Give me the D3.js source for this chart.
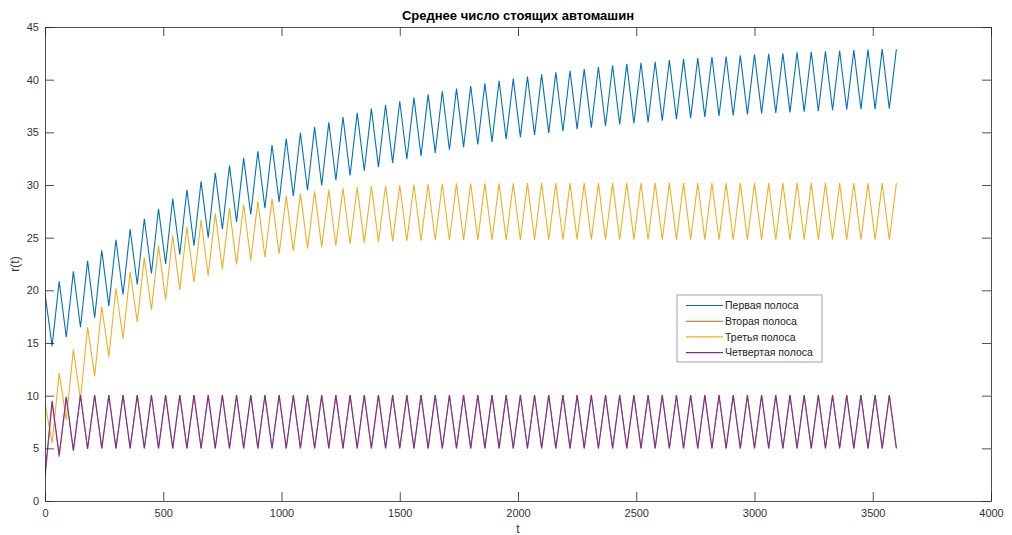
<!DOCTYPE html>
<html>
<head>
<meta charset="utf-8">
<script src="https://cdn.jsdelivr.net/npm/d3@7"></script>
<style>
  html, body { margin: 0; padding: 0; background: #ffffff; }
  svg { display: block; font-family: "Liberation Sans", Arial, Helvetica, sans-serif; }
</style>
</head>
<body>
<svg id="chart" width="1012" height="535"></svg>
<script>
// Mean number of waiting cars per lane, sampled every 30 s over one hour
const sampleStep = 30;
const timeEnd = 3600;

const laneNames = ["Первая полоса", "Вторая полоса", "Третья полоса", "Четвертая полоса"];
const laneColors = ["#0072BD", "#D95319", "#EDB120", "#7E2F8E"];

const firstLane = [
  19.7, 14.7, 20.85, 15.55, 21.8, 16.5, 22.8, 17.4, 23.8, 18.5,
  24.8, 19.6, 25.8, 20.55, 26.8, 21.6, 27.75, 22.5, 28.7, 23.4,
  29.55, 24.25, 30.35, 25.0, 31.15, 25.8, 31.85, 26.5, 32.55, 27.2,
  33.2, 27.8, 33.8, 28.4, 34.4, 28.95, 34.95, 29.5, 35.5, 29.95,
  35.95, 30.45, 36.45, 30.9, 36.85, 31.35, 37.25, 31.7, 37.6, 32.1,
  37.95, 32.45, 38.3, 32.75, 38.6, 33.05, 38.9, 33.35, 39.15, 33.6,
  39.4, 33.85, 39.65, 34.1, 39.9, 34.35, 40.1, 34.55, 40.3, 34.75,
  40.5, 34.95, 40.7, 35.1, 40.85, 35.3, 41.0, 35.45, 41.2, 35.6,
  41.35, 35.75, 41.5, 35.85, 41.6, 35.95, 41.7, 36.1, 41.85, 36.25,
  41.95, 36.35, 42.05, 36.45, 42.15, 36.55, 42.2, 36.6, 42.3, 36.7,
  42.4, 36.8, 42.45, 36.85, 42.5, 36.9, 42.6, 36.95, 42.65, 37.0,
  42.7, 37.1, 42.75, 37.15, 42.8, 37.2, 42.85, 37.2, 42.9, 37.25,
  42.9
];

const secondLane = [
  2.1, 9.3, 4.2, 9.8, 4.75, 10.05, 4.95, 10.05, 5.0, 10.05,
  5.0, 10.05, 5.0, 10.05, 5.0, 10.05, 5.0, 10.05, 5.0, 10.05,
  5.0, 10.05, 5.0, 10.05, 5.0, 10.05, 5.0, 10.05, 5.0, 10.05,
  5.0, 10.05, 5.0, 10.05, 5.0, 10.05, 5.0, 10.05, 5.0, 10.05,
  5.0, 10.05, 5.0, 10.05, 5.0, 10.05, 5.0, 10.05, 5.0, 10.05,
  5.0, 10.05, 5.0, 10.05, 5.0, 10.05, 5.0, 10.05, 5.0, 10.05,
  5.0, 10.05, 5.0, 10.05, 5.0, 10.05, 5.0, 10.05, 5.0, 10.05,
  5.0, 10.05, 5.0, 10.05, 5.0, 10.05, 5.0, 10.05, 5.0, 10.05,
  5.0, 10.05, 5.0, 10.05, 5.0, 10.05, 5.0, 10.05, 5.0, 10.05,
  5.0, 10.05, 5.0, 10.05, 5.0, 10.05, 5.0, 10.05, 5.0, 10.05,
  5.0, 10.05, 5.0, 10.05, 5.0, 10.05, 5.0, 10.05, 5.0, 10.05,
  5.0, 10.05, 5.0, 10.05, 5.0, 10.05, 5.0, 10.05, 5.0, 10.05,
  5.0
];

const thirdLane = [
  9.3, 5.5, 12.15, 7.7, 14.4, 9.6, 16.5, 11.85, 18.45, 13.7,
  20.2, 15.4, 21.75, 17.0, 23.1, 18.15, 24.25, 19.1, 25.2, 20.05,
  26.0, 20.8, 26.7, 21.4, 27.3, 22.0, 27.8, 22.45, 28.15, 22.85,
  28.45, 23.15, 28.7, 23.45, 28.95, 23.75, 29.2, 23.95, 29.4, 24.1,
  29.55, 24.25, 29.7, 24.4, 29.8, 24.5, 29.9, 24.6, 29.95, 24.65,
  30.0, 24.7, 30.05, 24.72, 30.1, 24.75, 30.12, 24.76, 30.15, 24.77,
  30.15, 24.78, 30.16, 24.78, 30.17, 24.79, 30.17, 24.79, 30.18, 24.79,
  30.18, 24.8, 30.18, 24.8, 30.18, 24.8, 30.18, 24.8, 30.18, 24.8,
  30.18, 24.8, 30.18, 24.8, 30.18, 24.8, 30.18, 24.8, 30.18, 24.8,
  30.18, 24.8, 30.18, 24.8, 30.18, 24.8, 30.18, 24.8, 30.18, 24.8,
  30.18, 24.8, 30.18, 24.8, 30.18, 24.8, 30.18, 24.8, 30.18, 24.8,
  30.18, 24.8, 30.18, 24.8, 30.18, 24.8, 30.18, 24.8, 30.18, 24.8,
  30.18
];

const fourthLane = [
  2.4, 9.5, 4.35, 9.9, 4.8, 10.05, 4.95, 10.05, 5.0, 10.05,
  5.0, 10.05, 5.0, 10.05, 5.0, 10.05, 5.0, 10.05, 5.0, 10.05,
  5.0, 10.05, 5.0, 10.05, 5.0, 10.05, 5.0, 10.05, 5.0, 10.05,
  5.0, 10.05, 5.0, 10.05, 5.0, 10.05, 5.0, 10.05, 5.0, 10.05,
  5.0, 10.05, 5.0, 10.05, 5.0, 10.05, 5.0, 10.05, 5.0, 10.05,
  5.0, 10.05, 5.0, 10.05, 5.0, 10.05, 5.0, 10.05, 5.0, 10.05,
  5.0, 10.05, 5.0, 10.05, 5.0, 10.05, 5.0, 10.05, 5.0, 10.05,
  5.0, 10.05, 5.0, 10.05, 5.0, 10.05, 5.0, 10.05, 5.0, 10.05,
  5.0, 10.05, 5.0, 10.05, 5.0, 10.05, 5.0, 10.05, 5.0, 10.05,
  5.0, 10.05, 5.0, 10.05, 5.0, 10.05, 5.0, 10.05, 5.0, 10.05,
  5.0, 10.05, 5.0, 10.05, 5.0, 10.05, 5.0, 10.05, 5.0, 10.05,
  5.0, 10.05, 5.0, 10.05, 5.0, 10.05, 5.0, 10.05, 5.0, 10.05,
  5.0
];

const xTicks = [0, 500, 1000, 1500, 2000, 2500, 3000, 3500, 4000];
const yTicks = [0, 5, 10, 15, 20, 25, 30, 35, 40, 45];

const titleText = "Среднее число стоящих автомашин";
const xLabel = "t";
const yLabel = "r(t)";

// ---- layout ----
const svg = d3.select("#chart");
const plot = { left: 45, right: 991, top: 27, bottom: 501 };
const axisColor = "#262626";
const tickLen = 9;

const x = d3.scaleLinear().domain([0, 4000]).range([plot.left, plot.right]);
const y = d3.scaleLinear().domain([0, 45]).range([plot.bottom, plot.top]);

const times = d3.range(0, timeEnd + 1, sampleStep);
const lanes = [firstLane, secondLane, thirdLane, fourthLane];
// the second lane sits under the fourth, so keep it thinner to stay hidden where they coincide
const laneWidths = [1.1, 0.7, 1.1, 1.15];

svg.append("defs").append("clipPath").attr("id", "plot-clip")
  .append("rect")
  .attr("x", plot.left).attr("y", plot.top)
  .attr("width", plot.right - plot.left).attr("height", plot.bottom - plot.top);

// ---- series ----
const line = d3.line()
  .x((d, i) => x(times[i]))
  .y(d => y(d));

const seriesG = svg.append("g").attr("clip-path", "url(#plot-clip)");
lanes.forEach((vals, k) => {
  seriesG.append("path")
    .datum(vals)
    .attr("fill", "none")
    .attr("stroke", laneColors[k])
    .attr("stroke-width", laneWidths[k])
    .attr("stroke-linejoin", "miter")
    .attr("d", line);
});

// ---- axes (box with inward ticks on all sides) ----
function styleAxis(g) {
  g.select(".domain").attr("stroke", axisColor).attr("stroke-width", 0.8);
  g.selectAll(".tick line").attr("stroke", axisColor).attr("stroke-width", 0.8);
  g.selectAll(".tick text")
    .attr("fill", "#333")
    .attr("font-size", 11)
    .attr("font-family", "\"Liberation Sans\", Arial, sans-serif");
}

svg.append("g")
  .attr("transform", `translate(0,${plot.bottom})`)
  .call(d3.axisBottom(x).tickValues(xTicks).tickSizeInner(-tickLen).tickSizeOuter(0).tickPadding(8).tickFormat(d3.format("d")))
  .call(styleAxis);

svg.append("g")
  .attr("transform", `translate(0,${plot.top})`)
  .call(d3.axisTop(x).tickValues(xTicks).tickSizeInner(-tickLen).tickSizeOuter(0).tickFormat(""))
  .call(styleAxis);

svg.append("g")
  .attr("transform", `translate(${plot.left},0)`)
  .call(d3.axisLeft(y).tickValues(yTicks).tickSizeInner(-tickLen).tickSizeOuter(0).tickPadding(6).tickFormat(d3.format("d")))
  .call(styleAxis);

svg.append("g")
  .attr("transform", `translate(${plot.right},0)`)
  .call(d3.axisRight(y).tickValues(yTicks).tickSizeInner(-tickLen).tickSizeOuter(0).tickFormat(""))
  .call(styleAxis);

// ---- title and axis labels ----
svg.append("text")
  .attr("x", (plot.left + plot.right) / 2)
  .attr("y", 20)
  .attr("text-anchor", "middle")
  .attr("font-size", 13)
  .attr("font-weight", "bold")
  .attr("fill", "#000")
  .text(titleText);

svg.append("text")
  .attr("x", (plot.left + plot.right) / 2)
  .attr("y", 533)
  .attr("text-anchor", "middle")
  .attr("font-size", 12)
  .attr("fill", "#333")
  .text(xLabel);

svg.append("text")
  .attr("transform", `translate(19,${(plot.top + plot.bottom) / 2}) rotate(-90)`)
  .attr("text-anchor", "middle")
  .attr("font-size", 12)
  .attr("fill", "#333")
  .text(yLabel);

// ---- legend ----
const legend = { x: 677, y: 295, w: 145, h: 67, rowH: 15.7 };
const legendG = svg.append("g");
legendG.append("rect")
  .attr("x", legend.x).attr("y", legend.y)
  .attr("width", legend.w).attr("height", legend.h)
  .attr("fill", "#fff")
  .attr("stroke", "#8c8c8c")
  .attr("stroke-width", 0.8);

laneNames.forEach((name, k) => {
  const cy = legend.y + 10.5 + k * legend.rowH;
  legendG.append("line")
    .attr("x1", legend.x + 9).attr("x2", legend.x + 46)
    .attr("y1", cy).attr("y2", cy)
    .attr("stroke", laneColors[k])
    .attr("stroke-width", 1.1);
  legendG.append("text")
    .attr("x", legend.x + 48)
    .attr("y", cy)
    .attr("dy", "0.35em")
    .attr("font-size", 10.5)
    .attr("fill", "#222")
    .text(name);
});
</script>
</body>
</html>
